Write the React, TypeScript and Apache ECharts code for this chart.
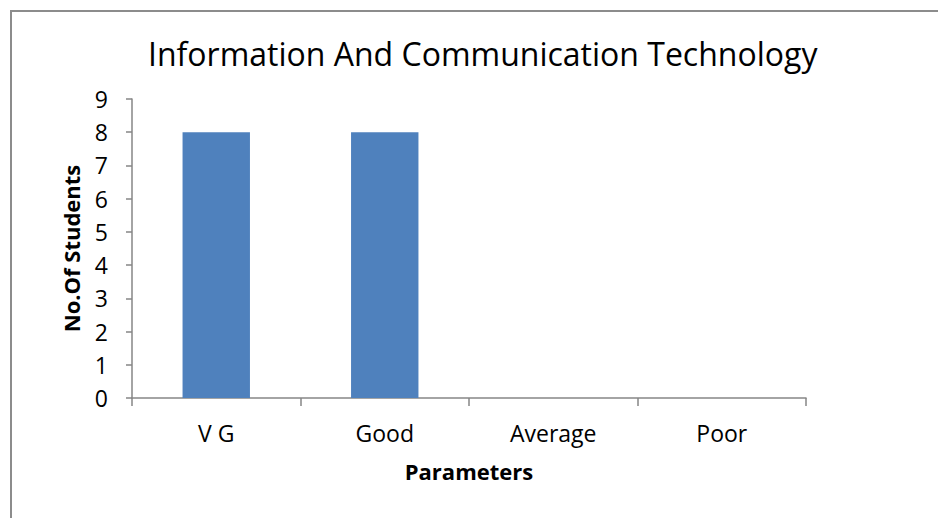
import React, { useEffect, useRef } from "react";
import * as echarts from "echarts";

const titleText = "Information And Communication Technology";
const categories = ["V G", "Good", "Average", "Poor"];
const studentCounts = [8, 8, 0, 0];
const yAxisName = "No.Of Students";
const xAxisName = "Parameters";

export default function App() {
  const ref = useRef<HTMLDivElement>(null);
  useEffect(() => {
    if (!ref.current) return;
    const chart = echarts.init(ref.current, null, { renderer: "svg" });
    const font = "'Open Sans', 'Noto Sans', sans-serif";
    chart.setOption({
      animation: false,
      backgroundColor: "#ffffff",
      textStyle: { fontFamily: font },
      title: {
        text: titleText,
        left: 143,
        top: 32,
        textStyle: { fontFamily: font, fontSize: 32, fontWeight: "normal", color: "#000" },
      },
      graphic: [
        {
          type: "rect",
          shape: { x: 11, y: 11, width: 1000, height: 600 },
          style: { fill: "none", stroke: "#8c8c8c", lineWidth: 2 },
          silent: true,
        },
      ],
      grid: { left: 132, right: 132, top: 99, bottom: 120, containLabel: false },
      xAxis: {
        type: "category",
        data: categories,
        name: xAxisName,
        nameLocation: "middle",
        nameGap: 62,
        nameTextStyle: { fontFamily: font, fontSize: 22, fontWeight: "bold", color: "#000" },
        axisLine: { lineStyle: { color: "#868686", width: 1.5 } },
        axisTick: { show: true, alignWithLabel: false, length: 8, lineStyle: { color: "#868686", width: 1.5 } },
        axisLabel: { fontFamily: font, fontSize: 23, color: "#000", margin: 23 },
      },
      yAxis: {
        type: "value",
        min: 0,
        max: 9,
        interval: 1,
        name: yAxisName,
        nameLocation: "middle",
        nameRotate: 90,
        nameGap: 50,
        nameTextStyle: { fontFamily: font, fontSize: 22, fontWeight: "bold", color: "#000" },
        axisLine: { show: true, lineStyle: { color: "#868686", width: 1.5 } },
        axisTick: { show: true, length: 6, lineStyle: { color: "#868686", width: 1.5 } },
        axisLabel: { fontFamily: font, fontSize: 23, color: "#000", margin: 24 },
        splitLine: { show: false },
      },
      series: [
        {
          type: "bar",
          data: studentCounts,
          barWidth: "40%",
          itemStyle: { color: "#4F81BD" },
        },
      ],
    });
    return () => chart.dispose();
  }, []);
  return (
    <div
      ref={ref}
      style={{ position: "fixed", left: 0, top: 0, width: 938, height: 518 }}
    />
  );
}
